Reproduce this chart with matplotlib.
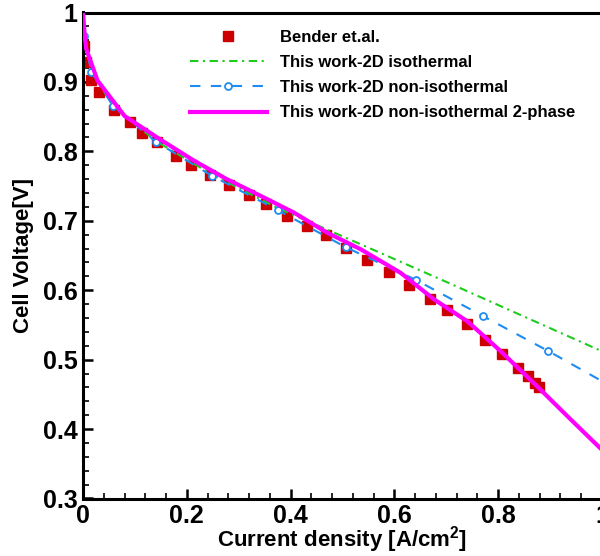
import numpy as np
import matplotlib
matplotlib.use("Agg")
import matplotlib.pyplot as plt

plt.rcParams['font.family'] = ['Liberation Sans', 'DejaVu Sans']
plt.rcParams['font.weight'] = 'bold'
plt.rcParams['mathtext.default'] = 'regular'

# Bender et.al. experimental data
bender_x = [0.002, 0.006, 0.015, 0.031, 0.060, 0.091, 0.114, 0.142, 0.180, 0.208,
            0.245, 0.281, 0.319, 0.352, 0.394, 0.432, 0.468, 0.506, 0.547, 0.589,
            0.628, 0.669, 0.702, 0.739, 0.774, 0.808, 0.838, 0.857, 0.871, 0.879]
bender_y = [0.952, 0.928, 0.903, 0.885, 0.859, 0.842, 0.827, 0.814, 0.794, 0.781,
            0.766, 0.752, 0.737, 0.724, 0.707, 0.692, 0.679, 0.661, 0.644, 0.626,
            0.607, 0.588, 0.571, 0.552, 0.529, 0.508, 0.488, 0.476, 0.466, 0.461]

# 2D isothermal
iso_x = [0.002, 0.016, 0.058, 0.140, 0.248, 0.376, 0.450, 0.560, 0.700, 0.850, 1.000]
iso_y = [0.966, 0.915, 0.866, 0.815, 0.767, 0.718, 0.694, 0.658, 0.612, 0.562, 0.512]

# 2D non-isothermal
noniso_x = [0.002, 0.016, 0.058, 0.140, 0.248, 0.376, 0.506, 0.641, 0.770, 0.895, 1.000]
noniso_y = [0.966, 0.915, 0.865, 0.814, 0.765, 0.715, 0.662, 0.615, 0.563, 0.513, 0.469]

# 2D non-isothermal 2-phase
twoph_x = [0.000, 0.003, 0.006, 0.028, 0.080, 0.149, 0.213, 0.277, 0.342, 0.406,
           0.470, 0.535, 0.612, 0.676, 0.741, 0.805, 0.869, 0.934, 1.000]
twoph_y = [1.000, 0.970, 0.948, 0.902, 0.851, 0.817, 0.787, 0.760, 0.736, 0.712,
           0.683, 0.659, 0.625, 0.587, 0.555, 0.512, 0.466, 0.418, 0.370]

fig = plt.figure(figsize=(6.0, 5.56), dpi=100)
ax = fig.add_axes([83/600, 1 - 498.5/556, 519/600, 486/556])

ax.plot(bender_x, bender_y, 's', color='#CC0000', markersize=7, linestyle='none',
        label='Bender et.al.', zorder=2)
ax.plot(iso_x, iso_y, color='#1ECC1E', linewidth=1.5, dashes=(4, 2.2, 1, 2.2),
        label='This work-2D isothermal', zorder=3)
ax.plot(noniso_x, noniso_y, color='#1E8CF0', linewidth=1.5, dashes=(5, 5),
        marker='o', markersize=5, markerfacecolor='white', markeredgewidth=1.3,
        markevery=list(range(len(noniso_x) - 1)),
        label='This work-2D non-isothermal', zorder=3)
ax.plot(twoph_x, twoph_y, color='#FF00FF', linewidth=3,
        label='This work-2D non-isothermal 2-phase', zorder=4)

ax.set_xlim(0, 1)
ax.set_ylim(0.3, 1.0)
ax.set_xticks([0, 0.2, 0.4, 0.6, 0.8, 1.0])
ax.set_xticklabels(['0', '0.2', '0.4', '0.6', '0.8', '1'])
ax.set_yticks([0.3, 0.4, 0.5, 0.6, 0.7, 0.8, 0.9, 1.0])
ax.set_yticklabels(['0.3', '0.4', '0.5', '0.6', '0.7', '0.8', '0.9', '1'])
ax.set_xticks(np.arange(0, 1.001, 0.04), minor=True)
ax.set_yticks(np.arange(0.3, 1.001, 0.02), minor=True)
ax.tick_params(which='major', direction='in', length=7, width=1.8, labelsize=18, pad=4)
ax.tick_params(which='minor', direction='in', length=4, width=1.2)
for lab in ax.get_xticklabels() + ax.get_yticklabels():
    lab.set_fontweight('bold')
for s in ax.spines.values():
    s.set_linewidth(2.2)

ax.set_xlabel('Current density [A/cm$^2$]', fontsize=16, fontweight='bold', labelpad=-2.5)
ax.set_ylabel('Cell Voltage[V]', fontsize=16, fontweight='bold', labelpad=6)

ax.legend(loc='upper left', bbox_to_anchor=(190/600, 1 - 29.5/556),
          bbox_transform=fig.transFigure, frameon=False,
          handlelength=4.6, handletextpad=0.8, labelspacing=0.62, borderpad=0,
          borderaxespad=0, prop={'weight': 'bold', 'size': 12})

fig.savefig('out.png', dpi=100)
